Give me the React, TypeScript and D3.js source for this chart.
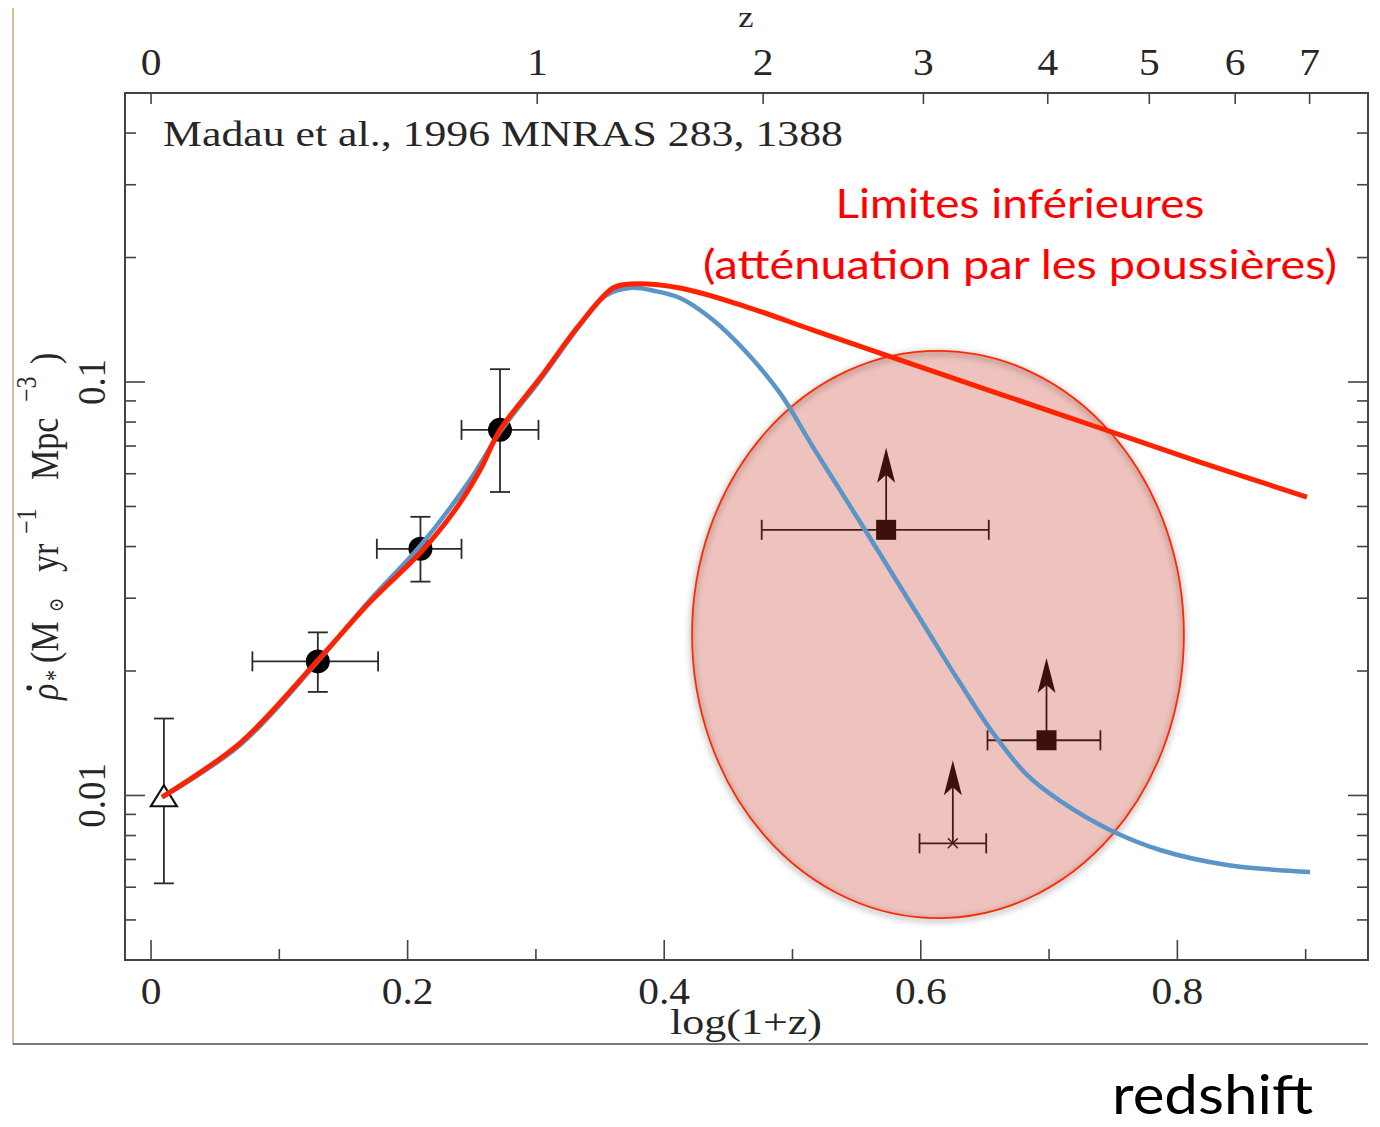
import React from 'react';
import * as d3 from 'd3';

const W = 1380;
const H = 1127;

// top axis: redshift z values
const zTicks = [0, 1, 2, 3, 4, 5, 6, 7];
// bottom axis: log(1+z)
const xMajorTicks = [0, 0.2, 0.4, 0.6, 0.8];
const xMinorTicks = [0.1, 0.3, 0.5, 0.7, 0.9];
const xTickLabels = ['0', '0.2', '0.4', '0.6', '0.8'];
// y axis (log)
const yMajorTicks = [0.01, 0.1];
const yTickLabels = ['0.01', '0.1'];
const yMinorTicks = [0.005, 0.006, 0.007, 0.008, 0.009, 0.02, 0.03, 0.04, 0.05, 0.06, 0.07, 0.08, 0.09, 0.2, 0.3, 0.4];

// local point (open triangle)
const localX = [0.01];
const localY = [0.0099];
const localYLo = [0.00613];
const localYHi = [0.01535];

// detections (filled circles)
const detX = [0.130, 0.210, 0.272];
const detY = [0.0211, 0.0395, 0.0766];
const detXLo = [0.079, 0.176, 0.242];
const detXHi = [0.177, 0.242, 0.302];
const detYLo = [0.0178, 0.0329, 0.0542];
const detYHi = [0.0248, 0.0472, 0.1074];

// lower limits (squares / cross with arrows)
const limX = [0.573, 0.698, 0.625];
const limY = [0.0439, 0.0136, 0.00766];
const limXLo = [0.476, 0.652, 0.599];
const limXHi = [0.653, 0.740, 0.651];
const limArrowTo = [0.0693, 0.0215, 0.01216];
const limMarker = ['square', 'square', 'cross'];

// blue curve (uncorrected model)
const blueX = [0.0086, 0.0694, 0.1302, 0.1707, 0.2104, 0.2486, 0.2720, 0.3032, 0.3344, 0.3539, 0.3734, 0.3928, 0.4123, 0.4381, 0.4646, 0.4903, 0.5160, 0.5425, 0.5682, 0.6049, 0.6306, 0.6563, 0.6828, 0.7086, 0.7475, 0.7865, 0.8387, 0.9034];
const blueY = [0.00991, 0.01324, 0.02114, 0.0297, 0.04034, 0.0579, 0.0757, 0.1011, 0.1373, 0.1614, 0.1688, 0.166, 0.1596, 0.1412, 0.1175, 0.094, 0.0696, 0.0515, 0.03836, 0.02513, 0.0187, 0.01416, 0.01121, 0.0097, 0.00825, 0.00738, 0.00679, 0.00653];

// red curve (dust-corrected)
const redX = [0.0086, 0.0694, 0.1302, 0.1707, 0.2104, 0.2369, 0.2564, 0.2720, 0.3032, 0.3344, 0.3601, 0.3734, 0.4123, 0.4646, 0.5160, 0.5682, 0.6617, 0.7397, 0.8176, 0.9010];
const redY = [0.00991, 0.01339, 0.02126, 0.02937, 0.03879, 0.049, 0.0612, 0.0765, 0.1022, 0.1381, 0.1688, 0.1725, 0.1688, 0.1518, 0.1335, 0.1175, 0.0935, 0.0774, 0.064, 0.0527];

// highlighted region (ellipse bounds in data units)
const ellipseX = [0.4217, 0.8051];
const ellipseY = [0.00505, 0.1189];

const serif = "'Liberation Serif', 'DejaVu Serif', serif";
const sans = "'Lato', 'Open Sans', 'Noto Sans', sans-serif";

export default function App() {
  const x = d3.scaleLinear().domain([-0.0203, 0.9486]).range([125, 1368]);
  const y = d3.scaleLog().domain([0.004, 0.5]).range([960, 93]);
  const zx = (z: number) => x(Math.log10(1 + z));

  const left = 125, right = 1368, top = 93, bottom = 960;
  const axisColor = '#444';
  const textColor = '#262626';

  const line = d3
    .line<[number, number]>()
    .x((d) => x(d[0]))
    .y((d) => y(d[1]))
    .curve(d3.curveCatmullRom.alpha(0.5));

  const blueD = line(blueX.map((v, i) => [v, blueY[i]]))!;
  const redD = line(redX.map((v, i) => [v, redY[i]]))!;

  const ecx = (x(ellipseX[0]) + x(ellipseX[1])) / 2;
  const ecy = (y(ellipseY[0]) + y(ellipseY[1])) / 2;
  const erx = (x(ellipseX[1]) - x(ellipseX[0])) / 2;
  const ery = (y(ellipseY[0]) - y(ellipseY[1])) / 2;

  const barColor = '#2a2a2a';
  const cap = 10;

  return (
    <svg
      width={W}
      height={H}
      style={{ display: 'block', position: 'absolute', left: 0, top: 0, background: '#fff' }}
    >
      <defs>
        <filter id="blur" x="-20%" y="-20%" width="140%" height="140%">
          <feGaussianBlur stdDeviation="3" />
        </filter>
      </defs>

      {/* slide border lines */}
      <line x1={13} y1={8} x2={13} y2={1045} stroke="#d3c09c" strokeWidth={2} />
      <line x1={13} y1={1044} x2={1368} y2={1044} stroke="#7a7a7a" strokeWidth={2} />

      {/* frame */}
      <rect x={left} y={top} width={right - left} height={bottom - top} fill="none" stroke={axisColor} strokeWidth={2} />

      {/* bottom ticks */}
      {xMajorTicks.map((t) => (
        <line key={'xM' + t} x1={x(t)} x2={x(t)} y1={bottom} y2={bottom - 20} stroke={axisColor} strokeWidth={1.6} />
      ))}
      {xMinorTicks.map((t) => (
        <line key={'xm' + t} x1={x(t)} x2={x(t)} y1={bottom} y2={bottom - 11} stroke={axisColor} strokeWidth={1.6} />
      ))}
      {xMajorTicks.map((t, i) => (
        <text
          key={'xl' + t}
          transform={`translate(${x(t)},1004) scale(1.12,1)`}
          textAnchor="middle"
          fontFamily={serif}
          fontSize={37}
          fill={textColor}
        >
          {xTickLabels[i]}
        </text>
      ))}
      <text
        x={746}
        y={1034}
        textAnchor="middle"
        fontFamily={serif}
        fontSize={36}
        fill={textColor}
        textLength={152}
        lengthAdjust="spacingAndGlyphs"
      >
        log(1+z)
      </text>

      {/* top ticks (z) */}
      {zTicks.map((z) => (
        <line key={'zt' + z} x1={zx(z)} x2={zx(z)} y1={top} y2={top + 11} stroke={axisColor} strokeWidth={1.6} />
      ))}
      {zTicks.map((z) => (
        <text
          key={'zl' + z}
          transform={`translate(${zx(z)},75) scale(1.12,1)`}
          textAnchor="middle"
          fontFamily={serif}
          fontSize={37}
          fill={textColor}
        >
          {String(z)}
        </text>
      ))}
      <text transform="translate(746,27) scale(1.15,1)" textAnchor="middle" fontFamily={serif} fontSize={30} fill={textColor}>
        z
      </text>

      {/* y ticks, left and right */}
      {yMajorTicks.map((t) => (
        <g key={'yM' + t}>
          <line x1={left} x2={left + 20} y1={y(t)} y2={y(t)} stroke={axisColor} strokeWidth={1.6} />
          <line x1={right} x2={right - 20} y1={y(t)} y2={y(t)} stroke={axisColor} strokeWidth={1.6} />
        </g>
      ))}
      {yMinorTicks.map((t) => (
        <g key={'ym' + t}>
          <line x1={left} x2={left + 11} y1={y(t)} y2={y(t)} stroke={axisColor} strokeWidth={1.6} />
          <line x1={right} x2={right - 11} y1={y(t)} y2={y(t)} stroke={axisColor} strokeWidth={1.6} />
        </g>
      ))}
      {yMajorTicks.map((t, i) => (
        <text
          key={'yl' + t}
          transform={`translate(105,${y(t)}) rotate(-90) scale(1,1.1)`}
          textAnchor="middle"
          fontFamily={serif}
          fontSize={37}
          fill={textColor}
        >
          {yTickLabels[i]}
        </text>
      ))}

      {/* y axis title: rho-dot_* (M_sun yr^-1 Mpc^-3) */}
      <g transform="translate(58,700) rotate(-90) scale(1,1.2)" fill={textColor} fontFamily={serif}>
        <text fontSize={34}>
          <tspan x={0} y={0} fontStyle="italic">ρ</tspan>
          <tspan x={19} y={5} fontSize={22}>*</tspan>
          <tspan x={37} y={0}>(M</tspan>
          <tspan x={88} y={4} fontSize={17}>⊙</tspan>
          <tspan x={128} y={0}>yr</tspan>
          <tspan x={166} y={-18} fontSize={24}>−1</tspan>
          <tspan x={220} y={0}>Mpc</tspan>
          <tspan x={298} y={-18} fontSize={24}>−3</tspan>
          <tspan x={336} y={0}>)</tspan>
        </text>
        <circle cx={12} cy={-24} r={2.4} />
      </g>

      {/* reference annotation */}
      <text
        x={163}
        y={146}
        fontFamily={serif}
        fontSize={35}
        fill={textColor}
        textLength={680}
        lengthAdjust="spacingAndGlyphs"
      >
        Madau et al., 1996 MNRAS 283, 1388
      </text>

      {/* local point: triangle with y error */}
      {localX.map((v, i) => {
        const cx = x(v), cy = y(localY[i]);
        return (
          <g key={'loc' + i}>
            <line x1={cx} x2={cx} y1={y(localYLo[i])} y2={y(localYHi[i])} stroke={barColor} strokeWidth={1.8} />
            <line x1={cx - cap} x2={cx + cap} y1={y(localYLo[i])} y2={y(localYLo[i])} stroke={barColor} strokeWidth={1.8} />
            <line x1={cx - cap} x2={cx + cap} y1={y(localYHi[i])} y2={y(localYHi[i])} stroke={barColor} strokeWidth={1.8} />
            <path d={`M${cx},${cy - 12} L${cx + 13},${cy + 9} L${cx - 13},${cy + 9} Z`} fill="#fff" stroke="#111" strokeWidth={2.2} />
          </g>
        );
      })}

      {/* detections */}
      {detX.map((v, i) => {
        const cx = x(v), cy = y(detY[i]);
        const xl = x(detXLo[i]), xh = x(detXHi[i]);
        const yl = y(detYLo[i]), yh = y(detYHi[i]);
        return (
          <g key={'det' + i}>
            <line x1={xl} x2={xh} y1={cy} y2={cy} stroke={barColor} strokeWidth={1.8} />
            <line x1={xl} x2={xl} y1={cy - cap} y2={cy + cap} stroke={barColor} strokeWidth={1.8} />
            <line x1={xh} x2={xh} y1={cy - cap} y2={cy + cap} stroke={barColor} strokeWidth={1.8} />
            <line x1={cx} x2={cx} y1={yl} y2={yh} stroke={barColor} strokeWidth={1.8} />
            <line x1={cx - cap} x2={cx + cap} y1={yl} y2={yl} stroke={barColor} strokeWidth={1.8} />
            <line x1={cx - cap} x2={cx + cap} y1={yh} y2={yh} stroke={barColor} strokeWidth={1.8} />
            <circle cx={cx} cy={cy} r={12} fill="#000" />
          </g>
        );
      })}

      {/* lower limits */}
      {limX.map((v, i) => {
        const cx = x(v), cy = y(limY[i]);
        const xl = x(limXLo[i]), xh = x(limXHi[i]);
        const tip = y(limArrowTo[i]);
        return (
          <g key={'lim' + i}>
            <line x1={xl} x2={xh} y1={cy} y2={cy} stroke="#111" strokeWidth={1.8} />
            <line x1={xl} x2={xl} y1={cy - cap} y2={cy + cap} stroke="#111" strokeWidth={1.8} />
            <line x1={xh} x2={xh} y1={cy - cap} y2={cy + cap} stroke="#111" strokeWidth={1.8} />
            <line x1={cx} x2={cx} y1={cy} y2={tip + 20} stroke="#111" strokeWidth={1.8} />
            <path
              d={`M${cx},${tip} L${cx + 9},${tip + 35} L${cx},${tip + 27} L${cx - 9},${tip + 35} Z`}
              fill="#000"
            />
            {limMarker[i] === 'square' ? (
              <rect x={cx - 10} y={cy - 10} width={20} height={20} fill="#000" />
            ) : (
              <g stroke="#111" strokeWidth={1.5}>
                <line x1={cx - 5} x2={cx + 5} y1={cy - 5} y2={cy + 5} />
                <line x1={cx - 5} x2={cx + 5} y1={cy + 5} y2={cy - 5} />
              </g>
            )}
          </g>
        );
      })}

      {/* highlight ellipse: soft shadow, then translucent fill */}
      <ellipse
        cx={ecx}
        cy={ecy + 2}
        rx={erx}
        ry={ery}
        fill="none"
        stroke="#000"
        strokeOpacity={0.3}
        strokeWidth={4}
        filter="url(#blur)"
      />
      <ellipse
        cx={ecx}
        cy={ecy}
        rx={erx}
        ry={ery}
        fill="rgb(200,55,35)"
        fillOpacity={0.3}
        stroke="#ff2a00"
        strokeWidth={1.8}
      />

      {/* curves */}
      <path d={blueD} fill="none" stroke="#5b95c8" strokeWidth={4.5} />
      <path d={redD} fill="none" stroke="#ff2200" strokeWidth={5} />

      {/* red annotation */}
      <text x={1020} y={218} textAnchor="middle" fontFamily={sans} fontSize={41} fill="#ff0000" textLength={369} lengthAdjust="spacingAndGlyphs">
        Limites inférieures
      </text>
      <text x={1020} y={279} textAnchor="middle" fontFamily={sans} fontSize={41} fill="#ff0000" textLength={634} lengthAdjust="spacingAndGlyphs">
        (atténuation par les poussières)
      </text>

      {/* redshift label */}
      <text x={1112} y={1114} fontFamily={sans} fontSize={54} fill="#000" textLength={201} lengthAdjust="spacingAndGlyphs">
        redshift
      </text>
    </svg>
  );
}
